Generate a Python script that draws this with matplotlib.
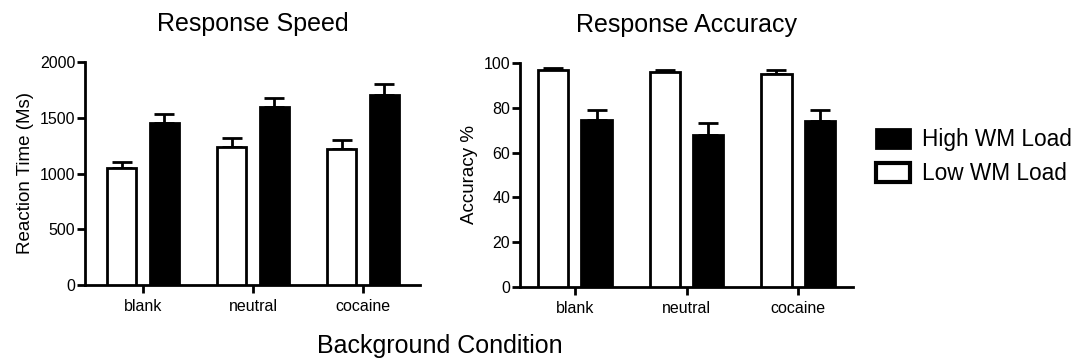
import numpy as np
import matplotlib
matplotlib.use('Agg')
import matplotlib.pyplot as plt
from matplotlib.patches import Patch

plt.rcParams['font.family'] = ['Liberation Sans', 'DejaVu Sans']

conditions = ['blank', 'neutral', 'cocaine']

# Response speed (ms)
rt_low = [1050, 1240, 1220]
rt_low_err = [50, 80, 80]
rt_high = [1450, 1600, 1700]
rt_high_err = [80, 80, 100]

# Response accuracy (%)
acc_low = [97, 96, 95]
acc_low_err = [0.7, 1.0, 1.8]
acc_high = [74.5, 68, 74]
acc_high_err = [4.5, 5, 5]

LW = 2.0
W = 0.27
OFF = 0.195


def draw_panel(ax, low, low_err, high, high_err, ylim, yticks, ylabel, title, xlim):
    x = np.arange(len(conditions))
    ax.bar(x - OFF, low, W, color='white', edgecolor='black', linewidth=LW, zorder=3)
    ax.bar(x + OFF, high, W, color='black', edgecolor='black', linewidth=LW, zorder=3)
    ax.errorbar(x - OFF, low, yerr=[np.zeros(3), low_err], fmt='none', ecolor='black',
                elinewidth=LW, capsize=7, capthick=LW, zorder=2)
    ax.errorbar(x + OFF, high, yerr=[np.zeros(3), high_err], fmt='none', ecolor='black',
                elinewidth=LW, capsize=7, capthick=LW, zorder=2)
    ax.set_xlim(*xlim)
    ax.set_ylim(*ylim)
    ax.set_yticks(yticks)
    ax.set_xticks(x)
    ax.set_xticklabels(conditions, fontsize=11.5)
    ax.tick_params(axis='y', labelsize=11.5, length=6, width=LW, direction='out', pad=1)
    ax.tick_params(axis='x', length=6, width=LW, direction='out', pad=4)
    for s in ['top', 'right']:
        ax.spines[s].set_visible(False)
    for s in ['left', 'bottom']:
        ax.spines[s].set_linewidth(LW)
    ax.set_ylabel(ylabel, fontsize=13.5)
    ax.set_title(title, fontsize=18, pad=22)


fig = plt.figure(figsize=(10.73, 3.63), dpi=100)
ax1 = fig.add_axes([85 / 1073, 1 - 285 / 363, 335 / 1073, 223 / 363])
ax2 = fig.add_axes([520 / 1073, 1 - 287 / 363, 333 / 1073, 224 / 363])

draw_panel(ax1, rt_low, rt_low_err, rt_high, rt_high_err, (0, 2000),
           [0, 500, 1000, 1500, 2000], 'Reaction Time (Ms)', 'Response Speed', (-0.527, 2.518))
draw_panel(ax2, acc_low, acc_low_err, acc_high, acc_high_err, (0, 100),
           [0, 20, 40, 60, 80, 100], 'Accuracy %', 'Response Accuracy', (-0.49, 2.49))

fig.text(440 / 1073, 1 - 346 / 363, 'Background Condition', fontsize=18, ha='center', va='center')

handles = [Patch(facecolor='black', edgecolor='black', linewidth=LW),
           Patch(facecolor='white', edgecolor='black', linewidth=LW * 1.5)]
fig.legend(handles, ['High WM Load', 'Low WM Load'], loc='upper left',
           bbox_to_anchor=(876 / 1073, 1 - 128 / 363), frameon=False, fontsize=16.3,
           handlelength=1.5, handleheight=0.92, handletextpad=0.55, labelspacing=0.5,
           borderpad=0, borderaxespad=0)

fig.savefig('out.png', dpi=100)
